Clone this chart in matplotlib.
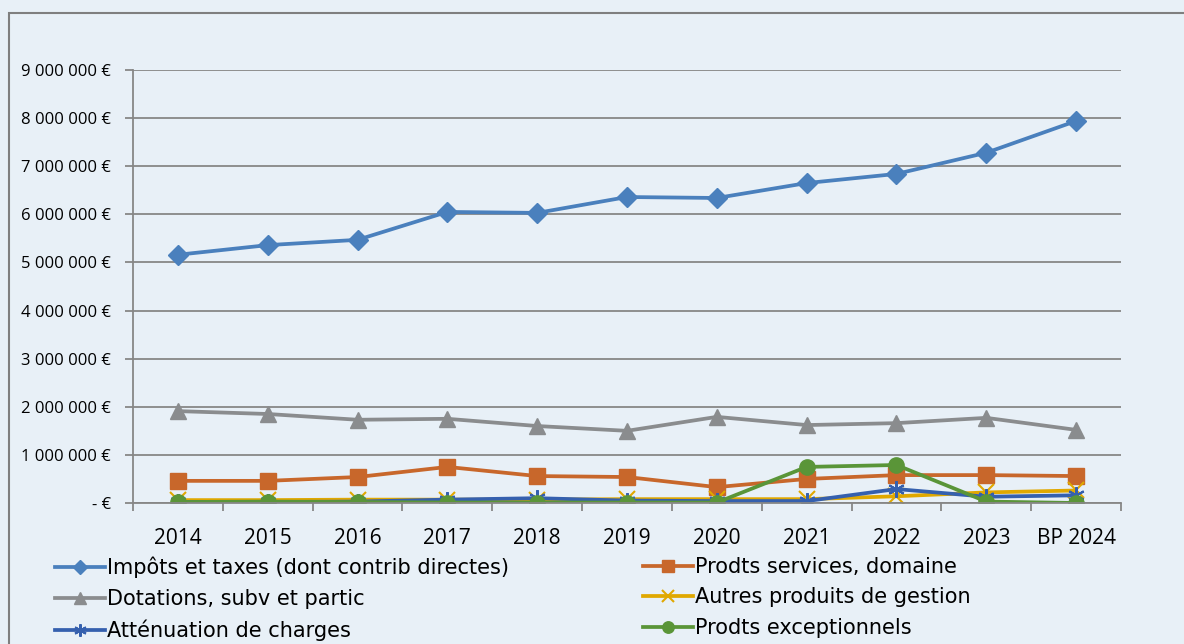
"""
Evolution des recettes de fonctionnement 2014 - BP 2024
"""

import matplotlib
matplotlib.use("Agg")
from matplotlib import pyplot as plt
from matplotlib import patches
from matplotlib import font_manager

years = ["2014", "2015", "2016", "2017", "2018", "2019", "2020", "2021", "2022", "2023", "BP 2024"]

impots = [5160000, 5360000, 5470000, 6050000, 6030000, 6360000, 6340000, 6650000, 6840000, 7280000, 7940000]
prodts_services = [460000, 460000, 540000, 750000, 560000, 540000, 330000, 500000, 580000, 580000, 560000]
dotations = [1910000, 1850000, 1730000, 1750000, 1600000, 1500000, 1790000, 1620000, 1660000, 1770000, 1520000]
autres_produits = [60000, 60000, 70000, 70000, 70000, 80000, 80000, 80000, 140000, 220000, 260000]
attenuation = [20000, 20000, 30000, 70000, 100000, 50000, 40000, 40000, 290000, 130000, 160000]
exceptionnels = [20000, 30000, 20000, 10000, 10000, 10000, 10000, 750000, 790000, 30000, 0]

bg = "#E8F0F7"
grid_col = "#878787"

# condensed font for the legend if there is one
try:
    font_manager.findfont("Liberation Sans Narrow", fallback_to_default=False)
    leg_font, leg_size = "Liberation Sans Narrow", 17
except Exception:
    leg_font, leg_size = "DejaVu Sans", 15

fig = plt.figure(figsize=(11.84, 6.44), dpi=100, facecolor=bg)
ax = fig.add_axes([133 / 1184, 1 - 503 / 644, 988 / 1184, 433 / 644])
ax.set_facecolor(bg)

# outer border of the chart area
fig.patches.append(patches.Rectangle((9 / 1184, -0.2), 1.5, 1.2 - 13 / 644,
                                     transform=fig.transFigure, fill=False,
                                     edgecolor="#7F7F7F", linewidth=1.5))

x = list(range(len(years)))
lw = 2.7
l1, = ax.plot(x, impots, "-D", color="#4A80BD", lw=lw, ms=10, label="Impôts et taxes (dont contrib directes)")
l2, = ax.plot(x, prodts_services, "-s", color="#C8672B", lw=lw, ms=11, label="Prodts services, domaine")
l3, = ax.plot(x, dotations, "-^", color="#8A8C8E", lw=lw, ms=12, label="Dotations, subv et partic")
l4, = ax.plot(x, autres_produits, "-x", color="#E0A800", lw=lw, ms=11, mew=1.5, label="Autres produits de gestion")
l5, = ax.plot(x, attenuation, "-", marker=(6, 2, 0), color="#3560AE", lw=lw, ms=12, mew=1.5, label="Atténuation de charges")
l6, = ax.plot(x, exceptionnels, "-o", color="#5A9538", lw=lw, ms=11, label="Prodts exceptionnels")

ax.set_xlim(-0.5, len(years) - 0.5)
ax.set_ylim(0, 9000000)
ax.set_yticks(range(0, 9000001, 1000000))
ylabels = ["- €"] + ["{} 000 000 €".format(i) for i in range(1, 10)]
ax.set_yticklabels(ylabels, fontfamily="Open Sans", fontsize=12)
ax.set_xticks(x)
ax.set_xticklabels(years, fontfamily="Open Sans", fontsize=15)
ax.set_xticks([i - 0.5 for i in range(len(years) + 1)], minor=True)
ax.tick_params(axis="x", which="major", length=0, pad=18)
ax.tick_params(axis="x", which="minor", length=6, color=grid_col, width=1.3)
ax.tick_params(axis="y", length=6, color=grid_col, width=1.3, pad=10)
ax.yaxis.grid(True, color=grid_col, linewidth=1.3)
ax.set_axisbelow(True)
for s in ["top", "right"]:
    ax.spines[s].set_visible(False)
for s in ["left", "bottom"]:
    ax.spines[s].set_color(grid_col)
    ax.spines[s].set_linewidth(1.3)

leg_kw = dict(loc="upper left", frameon=False, prop={"family": leg_font, "size": leg_size},
              handlelength=2.4, handletextpad=0.1, labelspacing=0.5, borderaxespad=0,
              borderpad=0, markerscale=0.75)
fig.legend(handles=[l1, l3, l5], bbox_to_anchor=(55 / 1184, 1 - 557 / 644), **leg_kw)
fig.legend(handles=[l2, l4, l6], bbox_to_anchor=(643 / 1184, 1 - 557 / 644), **leg_kw)

plt.savefig("out.png", dpi=100, facecolor=bg)
